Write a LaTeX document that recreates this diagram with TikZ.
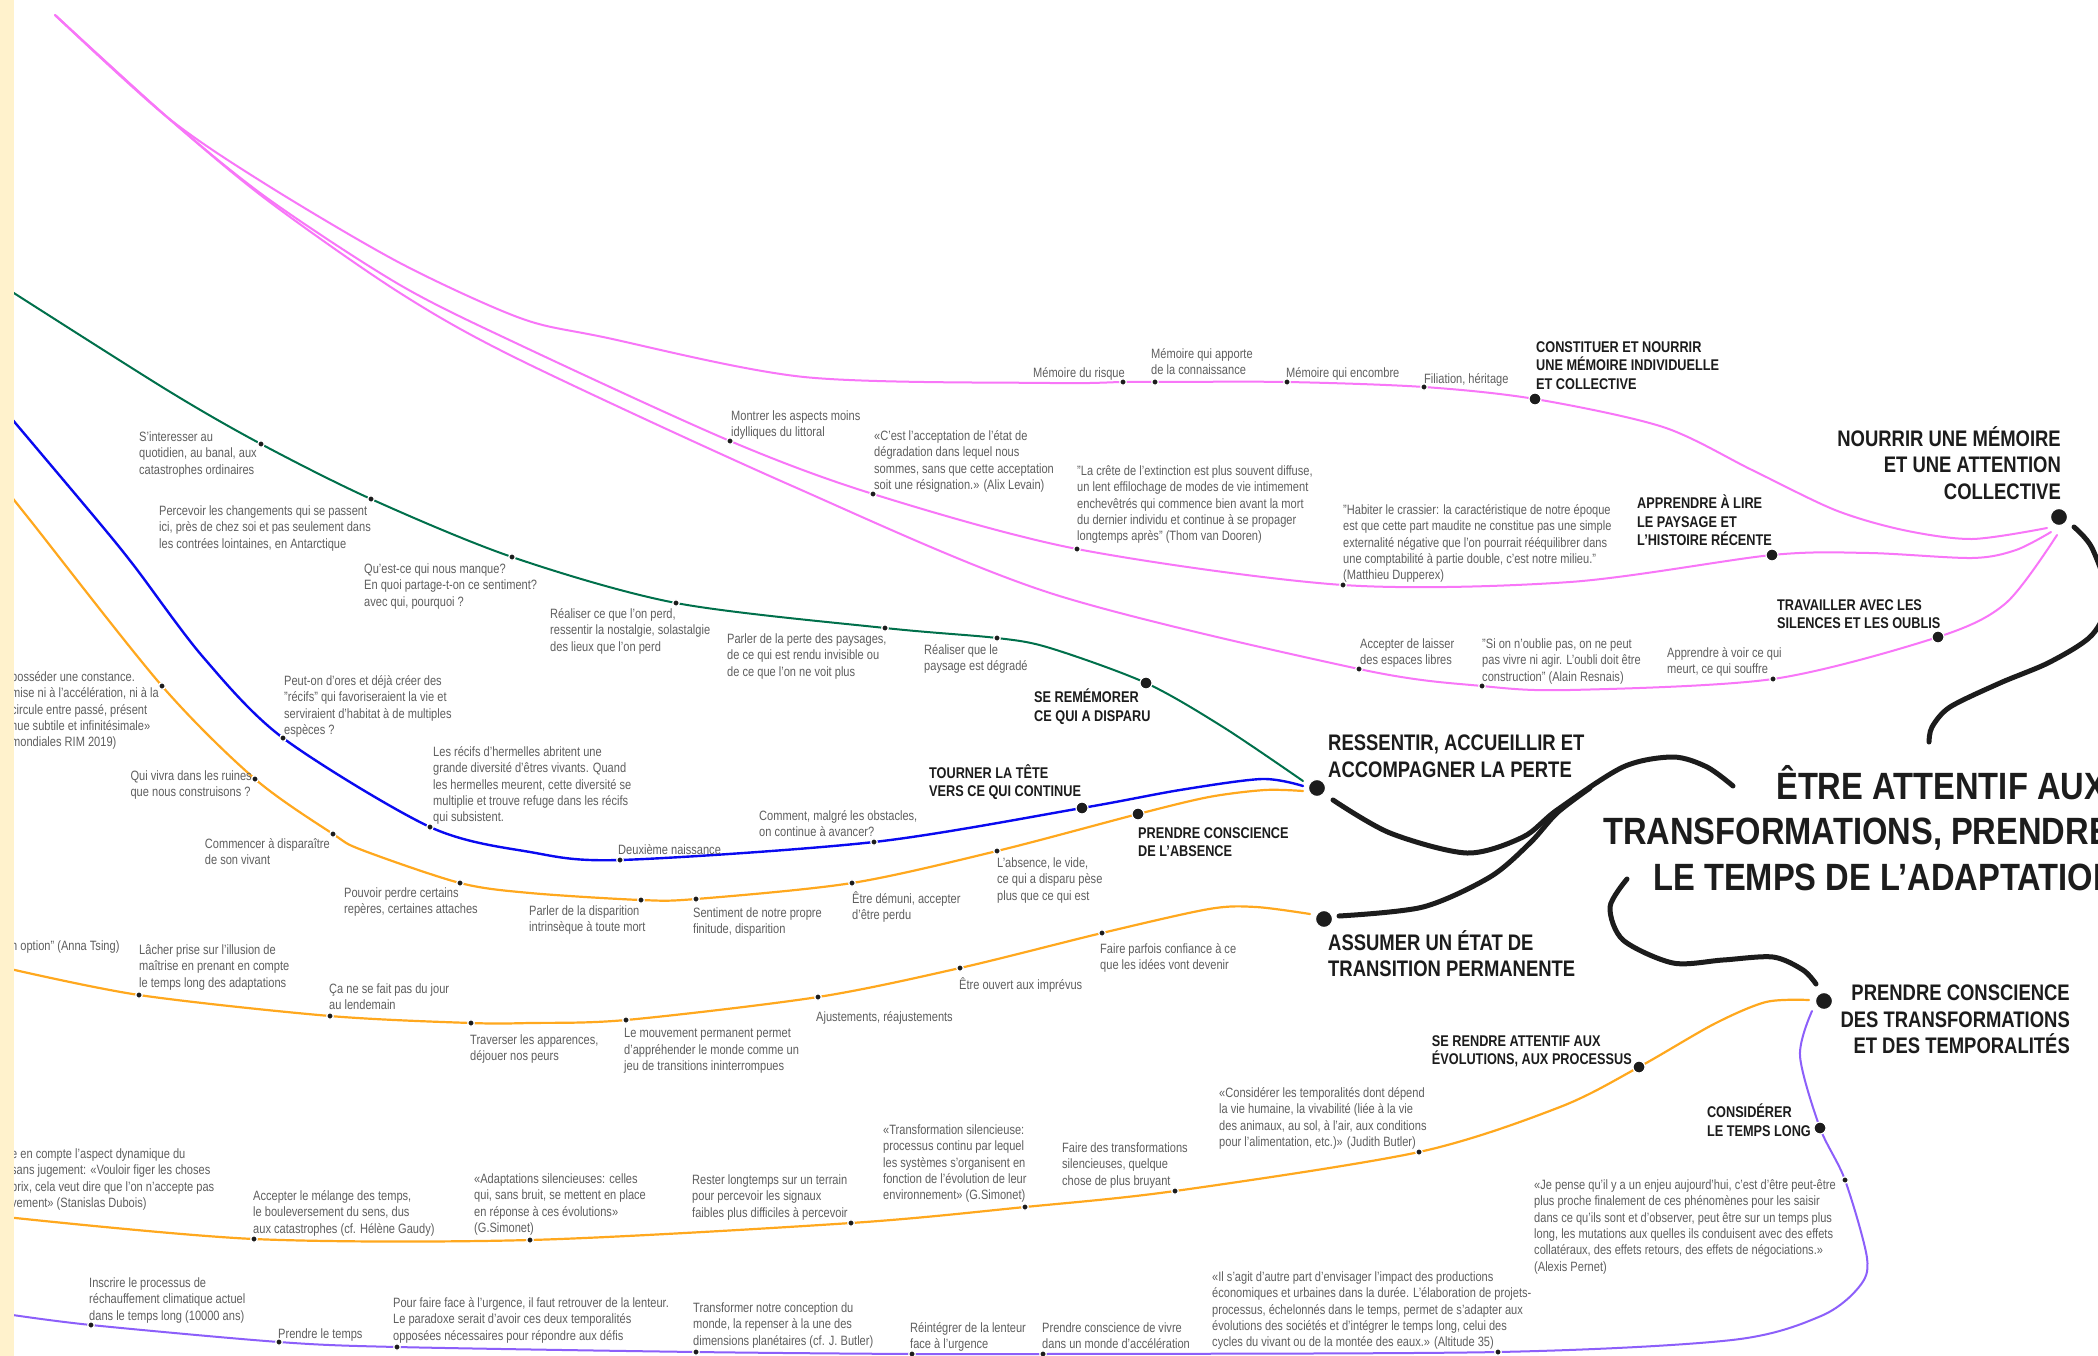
\documentclass[tikz,border=0pt]{standalone}
\usepackage{fontspec}
\setmainfont{Liberation Sans}[FakeStretch=0.82]
\newfontfamily\titlefamily{Liberation Sans}[FakeStretch=0.86,Ligatures=TeX]
\usetikzlibrary{backgrounds}

\definecolor{pinkline}{RGB}{248,118,248}
\definecolor{greenline}{RGB}{0,112,75}
\definecolor{blueline}{RGB}{10,10,240}
\definecolor{orangeline}{RGB}{255,168,30}
\definecolor{purpleline}{RGB}{140,95,250}
\definecolor{ink}{RGB}{28,28,28}
\definecolor{txtgray}{RGB}{95,95,95}
\definecolor{strip}{RGB}{255,242,204}

\newcommand{\lblfont}{\fontsize{13.5}{16.3}\selectfont}
\newcommand{\hdfont}{\bfseries\fontsize{15.5}{18.5}\selectfont}
\newcommand{\hdbigfont}{\bfseries\fontsize{22.5}{26.5}\selectfont}
\newcommand{\ttlfont}{\titlefamily\bfseries\fontsize{38}{45.5}\selectfont}

\tikzset{
  sdot/.style={circle,fill=ink,draw=white,line width=1.2pt,inner sep=0pt,minimum size=6.5pt},
  mdot/.style={sdot,minimum size=12pt},
  bdot/.style={sdot,minimum size=17pt},
  lbl/.style={font=\lblfont,text=txtgray,align=left,inner sep=0pt,yshift=-2.5pt,execute at begin node=\strut},
  hd/.style={font=\hdfont,text=ink,align=left,inner sep=0pt,execute at begin node=\rule{0pt}{0.95em}},
  hdbig/.style={hd,font=\hdbigfont},
  ttl/.style={hd,font=\ttlfont},
  curve/.style={line width=#1,line cap=round},
}

\begin{document}
\begin{tikzpicture}[x=1pt,y=-1pt]
		%%%%% START %%%%%
		\useasboundingbox (0,0) rectangle (2098,1356);

		%%%%% free ends of the lines
		\coordinate (pinkStart) at (55,15);
		\coordinate (pinkEndA) at (2047,528);
		\coordinate (pinkEndB) at (2051,532);
		\coordinate (pinkEndC) at (2057,535);
		\coordinate (greenStart) at (6,288);
		\coordinate (greenEnd) at (1303,781);
		\coordinate (blueStart) at (6,412);
		\coordinate (blueEnd) at (1303,786);
		\coordinate (orangeStartA) at (6,490);
		\coordinate (orangeEndA) at (1303,791);
		\coordinate (orangeStartB) at (6,968);
		\coordinate (orangeEndB) at (1310,914);
		\coordinate (orangeStartC) at (6,1217);
		\coordinate (orangeEndC) at (1809,1000);
		\coordinate (purpleStart) at (6,1314);
		\coordinate (purpleEnd) at (1812,1011);
		\coordinate (kNourrir) at (2074,527);
		\coordinate (kTitleTop) at (1929,742);
		\coordinate (kRessentir) at (1333,800);
		\coordinate (kTitleLeft) at (1733,786);
		\coordinate (kAssumer) at (1339,916);
		\coordinate (kMerge) at (1590,788);
		\coordinate (kTitleBottom) at (1627,879);
		\coordinate (kPrendre) at (1816,984);

		%%%%% memoire (pink)
		\node[sdot] (mRisque) at (1123,382) {};
		\node[sdot] (mApporte) at (1155,382) {};
		\node[sdot] (mEncombre) at (1287,382) {};
		\node[sdot] (mFiliation) at (1424,387) {};
		\node[mdot] (hConstituer) at (1535,399) {};
		\node[sdot] (mMontrer) at (730,441) {};
		\node[sdot] (mAcceptation) at (873,494) {};
		\node[sdot] (mCrete) at (1077,549) {};
		\node[sdot] (mCrassier) at (1343,585) {};
		\node[mdot] (hLire) at (1772,555) {};
		\node[sdot] (mLaisser) at (1359,669) {};
		\node[sdot] (mResnais) at (1482,686) {};
		\node[sdot] (mVoir) at (1773,679) {};
		\node[mdot] (hOublis) at (1938,637) {};
		\node[bdot] (hNourrir) at (2059,517) {};

		\node[lbl,anchor=north east] (lRisque) at (1125,363) {Mémoire du risque};
		\node[lbl,anchor=north west] (lApporte) at (1151,346) {Mémoire qui apporte\\de la connaissance};
		\node[lbl,anchor=north west] (lEncombre) at (1286,363) {Mémoire qui encombre};
		\node[lbl,anchor=north west] (lFiliation) at (1424,369) {Filiation, héritage};
		\node[hd,anchor=north west] (lConstituer) at (1536,341) {CONSTITUER ET NOURRIR\\UNE MÉMOIRE INDIVIDUELLE\\ET COLLECTIVE};
		\node[lbl,anchor=north west] (lMontrer) at (731,408) {Montrer les aspects moins\\idylliques du littoral};
		\node[lbl,anchor=north west] (lAcceptation) at (874,428) {«C'est l'acceptation de l'état de\\dégradation dans lequel nous\\sommes, sans que cette acceptation\\soit une résignation.» (Alix Levain)};
		\node[lbl,anchor=north west] (lCrete) at (1077,463) {"La crête de l'extinction est plus souvent diffuse,\\un lent effilochage de modes de vie intimement\\enchevêtrés qui commence bien avant la mort\\du dernier individu et continue à se propager\\longtemps après" (Thom van Dooren)};
		\node[lbl,anchor=north west] (lCrassier) at (1343,502) {"Habiter le crassier: la caractéristique de notre époque\\est que cette part maudite ne constitue pas une simple\\externalité négative que l'on pourrait rééquilibrer dans\\une comptabilité à partie double, c'est notre milieu."\\(Matthieu Dupperex)};
		\node[hd,anchor=north west] (lLire) at (1637,495) {APPRENDRE À LIRE\\LE PAYSAGE ET\\L'HISTOIRE RÉCENTE};
		\node[lbl,anchor=north west] (lLaisser) at (1360,636) {Accepter de laisser\\des espaces libres};
		\node[lbl,anchor=north west] (lResnais) at (1482,636) {"Si on n'oublie pas, on ne peut\\pas vivre ni agir. L'oubli doit être\\construction" (Alain Resnais)};
		\node[lbl,anchor=north west] (lVoir) at (1667,645) {Apprendre à voir ce qui\\meurt, ce qui souffre};
		\node[hd,anchor=north west] (lOublis) at (1777,599) {TRAVAILLER AVEC LES\\SILENCES ET LES OUBLIS};
		\node[hdbig,align=right,anchor=north east] (lNourrir) at (2061,426) {NOURRIR UNE MÉMOIRE\\ET UNE ATTENTION\\COLLECTIVE};

		%%%%% perte (green)
		\node[sdot] (gQuotidien) at (261,444) {};
		\node[sdot] (gPercevoir) at (371,499) {};
		\node[sdot] (gManque) at (512,557) {};
		\node[sdot] (gRealiser) at (676,603) {};
		\node[sdot] (gPaysages) at (885,628) {};
		\node[sdot] (gDegrade) at (997,638) {};
		\node[mdot] (hRememorer) at (1146,683) {};

		\node[lbl,anchor=north west] (lQuotidien) at (139,429) {S'interesser au\\quotidien, au banal, aux\\catastrophes ordinaires};
		\node[lbl,anchor=north west] (lPercevoir) at (159,503) {Percevoir les changements qui se passent\\ici, près de chez soi et pas seulement dans\\les contrées lointaines, en Antarctique};
		\node[lbl,anchor=north west] (lManque) at (364,561) {Qu'est-ce qui nous manque?\\En quoi partage-t-on ce sentiment?\\avec qui, pourquoi ?};
		\node[lbl,anchor=north west] (lRealiser) at (550,606) {Réaliser ce que l'on perd,\\ressentir la nostalgie, solastalgie\\des lieux que l'on perd};
		\node[lbl,anchor=north west] (lPaysages) at (727,631) {Parler de la perte des paysages,\\de ce qui est rendu invisible ou\\de ce que l'on ne voit plus};
		\node[lbl,anchor=north west] (lDegrade) at (924,642) {Réaliser que le\\paysage est dégradé};
		\node[hd,anchor=north west] (lRememorer) at (1034,689) {SE REMÉMORER\\CE QUI A DISPARU};

		%%%%% continue (blue)
		\node[sdot] (bRecifs) at (283,738) {};
		\node[sdot] (bHermelles) at (430,827) {};
		\node[sdot] (bNaissance) at (620,860) {};
		\node[sdot] (bObstacles) at (874,842) {};
		\node[mdot] (hTourner) at (1082,808) {};
		\node[bdot] (hRessentir) at (1317,788) {};

		\node[lbl,anchor=north west] (lRecifs) at (284,673) {Peut-on d'ores et déjà créer des\\"récifs" qui favoriseraient la vie et\\serviraient d'habitat à de multiples\\espèces ?};
		\node[lbl,anchor=north west] (lHermelles) at (433,744) {Les récifs d'hermelles abritent une\\grande diversité d'êtres vivants. Quand\\les hermelles meurent, cette diversité se\\multiplie et trouve refuge dans les récifs\\qui subsistent.};
		\node[lbl,anchor=north west] (lNaissance) at (618,840) {Deuxième naissance};
		\node[lbl,anchor=north west] (lObstacles) at (759,808) {Comment, malgré les obstacles,\\on continue à avancer?};
		\node[hd,anchor=north west] (lTourner) at (929,764) {TOURNER LA TÊTE\\VERS CE QUI CONTINUE};
		\node[hdbig,anchor=north west] (lRessentir) at (1328,735) {RESSENTIR, ACCUEILLIR ET\\ACCOMPAGNER LA PERTE};

		%%%%% absence (orange)
		\node[sdot] (oConstance) at (162,686) {};
		\node[sdot] (oRuines) at (255,779) {};
		\node[sdot] (oDisparaitre) at (333,834) {};
		\node[sdot] (oReperes) at (460,883) {};
		\node[sdot] (oMort) at (641,900) {};
		\node[sdot] (oFinitude) at (696,899) {};
		\node[sdot] (oDemuni) at (852,883) {};
		\node[sdot] (oAbsence) at (997,851) {};
		\node[mdot] (hAbsence) at (1138,814) {};

		\node[lbl,anchor=north west] (lConstance) at (11,669) {posséder une constance.\\mise ni à l'accélération, ni à la\\circule entre passé, présent\\nue subtile et infinitésimale»\\mondiales RIM 2019)};
		\node[lbl,anchor=north east] (lRuines) at (252,768) {Qui vivra dans les ruines\\que nous construisons ?};
		\node[lbl,anchor=north east] (lDisparaitre) at (330,836) {Commencer à disparaître\\de son vivant};
		\node[lbl,anchor=north west] (lReperes) at (344,885) {Pouvoir perdre certains\\repères, certaines attaches};
		\node[lbl,anchor=north west] (lMort) at (529,903) {Parler de la disparition\\intrinsèque à toute mort};
		\node[lbl,anchor=north west] (lFinitude) at (693,905) {Sentiment de notre propre\\finitude, disparition};
		\node[lbl,anchor=north west] (lDemuni) at (852,889) {Être démuni, accepter\\d'être perdu};
		\node[lbl,anchor=north west] (lAbsence) at (997,855) {L'absence, le vide,\\ce qui a disparu pèse\\plus que ce qui est};
		\node[hd,anchor=north west] (lAbsenceH) at (1138,827) {PRENDRE CONSCIENCE\\DE L'ABSENCE};

		%%%%% transition (orange)
		\node[sdot] (tLacher) at (139,995) {};
		\node[sdot] (tJour) at (330,1016) {};
		\node[sdot] (tApparences) at (471,1023) {};
		\node[sdot] (tMouvement) at (626,1020) {};
		\node[sdot] (tAjustements) at (818,997) {};
		\node[sdot] (tImprevus) at (960,968) {};
		\node[sdot] (tConfiance) at (1102,933) {};
		\node[bdot] (hAssumer) at (1324,919) {};

		\node[lbl,anchor=north west] (lTsing) at (11,936) {n option" (Anna Tsing)};
		\node[lbl,anchor=north west] (lLacher) at (139,942) {Lâcher prise sur l'illusion de\\maîtrise en prenant en compte\\le temps long des adaptations};
		\node[lbl,anchor=north west] (lJour) at (329,981) {Ça ne se fait pas du jour\\au lendemain};
		\node[lbl,anchor=north west] (lApparences) at (470,1032) {Traverser les apparences,\\déjouer nos peurs};
		\node[lbl,anchor=north west] (lMouvement) at (624,1026) {Le mouvement permanent permet\\d'appréhender le monde comme un\\jeu de transitions ininterrompues};
		\node[lbl,anchor=north west] (lAjustements) at (816,1007) {Ajustements, réajustements};
		\node[lbl,anchor=north west] (lImprevus) at (959,975) {Être ouvert aux imprévus};
		\node[lbl,anchor=north west] (lConfiance) at (1100,941) {Faire parfois confiance à ce\\que les idées vont devenir};
		\node[hdbig,anchor=north west] (lAssumer) at (1328,930) {ASSUMER UN ÉTAT DE\\TRANSITION PERMANENTE};

		%%%%% evolutions (orange)
		\node[sdot] (eMelange) at (254,1239) {};
		\node[sdot] (eAdaptations) at (530,1240) {};
		\node[sdot] (eTerrain) at (851,1223) {};
		\node[sdot] (eTransformation) at (1025,1207) {};
		\node[sdot] (eBruyant) at (1175,1191) {};
		\node[sdot] (eButler) at (1419,1152) {};
		\node[mdot] (hEvolutions) at (1639,1067) {};
		\node[bdot] (hPrendre) at (1824,1001) {};

		\node[lbl,anchor=north west] (lDubois) at (11,1146) {e en compte l'aspect dynamique du\\sans jugement: «Vouloir figer les choses\\prix, cela veut dire que l'on n'accepte pas\\vement» (Stanislas Dubois)};
		\node[lbl,anchor=north west] (lMelange) at (253,1188) {Accepter le mélange des temps,\\le bouleversement du sens, dus\\aux catastrophes (cf. Hélène Gaudy)};
		\node[lbl,anchor=north west] (lAdaptations) at (474,1171) {«Adaptations silencieuses: celles\\qui, sans bruit, se mettent en place\\en réponse à ces évolutions»\\(G.Simonet)};
		\node[lbl,anchor=north west] (lTerrain) at (692,1172) {Rester longtemps sur un terrain\\pour percevoir les signaux\\faibles plus difficiles à percevoir};
		\node[lbl,anchor=north west] (lTransformation) at (883,1122) {«Transformation silencieuse:\\processus continu par lequel\\les systèmes s'organisent en\\fonction de l'évolution de leur\\environnement» (G.Simonet)};
		\node[lbl,anchor=north west] (lBruyant) at (1062,1140) {Faire des transformations\\silencieuses, quelque\\chose de plus bruyant};
		\node[lbl,anchor=north west] (lButler) at (1219,1085) {«Considérer les temporalités dont dépend\\la vie humaine, la vivabilité (liée à la vie\\des animaux, au sol, à l'air, aux conditions\\pour l'alimentation, etc.)» (Judith Butler)};
		\node[hd,anchor=north east] (lEvolutions) at (1632,1035) {SE RENDRE ATTENTIF AUX\\ÉVOLUTIONS, AUX PROCESSUS};
		\node[hdbig,align=right,anchor=north east] (lPrendre) at (2070,985) {PRENDRE CONSCIENCE\\DES TRANSFORMATIONS\\ET DES TEMPORALITÉS};

		%%%%% temps long (purple)
		\node[sdot] (pInscrire) at (91,1325) {};
		\node[sdot] (pTemps) at (279,1342) {};
		\node[sdot] (pUrgence) at (397,1347) {};
		\node[sdot] (pConception) at (696,1352) {};
		\node[sdot] (pLenteur) at (912,1354) {};
		\node[sdot] (pVivre) at (1043,1354) {};
		\node[sdot] (pAltitude) at (1498,1352) {};
		\node[sdot] (pPernet) at (1845,1180) {};
		\node[mdot] (hLong) at (1820,1128) {};

		\node[lbl,anchor=north west] (lInscrire) at (89,1275) {Inscrire le processus de\\réchauffement climatique actuel\\dans le temps long (10000 ans)};
		\node[lbl,anchor=north west] (lTemps) at (278,1324) {Prendre le temps};
		\node[lbl,anchor=north west] (lUrgence) at (393,1295) {Pour faire face à l'urgence, il faut retrouver de la lenteur.\\Le paradoxe serait d'avoir ces deux temporalités\\opposées nécessaires pour répondre aux défis};
		\node[lbl,anchor=north west] (lConception) at (693,1300) {Transformer notre conception du\\monde, la repenser à la une des\\dimensions planétaires (cf. J. Butler)};
		\node[lbl,anchor=north west] (lLenteur) at (910,1320) {Réintégrer de la lenteur\\face à l'urgence};
		\node[lbl,anchor=north west] (lVivre) at (1042,1320) {Prendre conscience de vivre\\dans un monde d'accélération};
		\node[lbl,anchor=north west] (lAltitude) at (1212,1269) {«Il s'agit d'autre part d'envisager l'impact des productions\\économiques et urbaines dans la durée. L'élaboration de projets-\\processus, échelonnés dans le temps, permet de s'adapter aux\\évolutions des sociétés et d'intégrer le temps long, celui des\\cycles du vivant ou de la montée des eaux.» (Altitude 35)};
		\node[lbl,anchor=north west] (lPernet) at (1534,1177) {«Je pense qu'il y a un enjeu aujourd'hui, c'est d'être peut-être\\plus proche finalement de ces phénomènes pour les saisir\\dans ce qu'ils sont et d'observer, peut être sur un temps plus\\long, les mutations aux quelles ils conduisent avec des effets\\collatéraux, des effets retours, des effets de négociations.»\\(Alexis Pernet)};
		\node[hd,anchor=north east] (lLong) at (1811,1104) {CONSIDÉRER\\LE TEMPS LONG};

		%%%%% title (runs past the right edge)
		\node[ttl,anchor=north west] (lTitle) at (1603,765) {\hspace*{173pt}ÊTRE ATTENTIF AUX\\TRANSFORMATIONS, PRENDRE\\\hspace*{50pt}LE TEMPS DE L’ADAPTATION};

		%%%%% lines
		\begin{scope}[on background layer]
		\fill[white] (0,0) rectangle (2098,1356);
		\draw[curve=2pt,pinkline] plot[smooth] coordinates {(pinkStart) (167,117) (267,185) (400,263) (520,318) (603,337) (804,377) (1050,383) (mRisque.center) (mApporte.center) (mEncombre.center) (mFiliation.center) (hConstituer.center) (1663,427) (1752,470) (1835,510) (1903,530) (1972,539) (pinkEndA)};
		\draw[curve=2pt,pinkline] plot[smooth] coordinates {(pinkStart) (167,117) (267,198) (400,285) (520,345) (mMontrer.center) (mAcceptation.center) (mCrete.center) (mCrassier.center) (1570,582) (hLire.center) (1869,553) (1972,558) (2016,550) (pinkEndB)};
		\draw[curve=2pt,pinkline] plot[smooth] coordinates {(pinkStart) (167,117) (267,200) (400,293) (520,360) (790,485) (1050,593) (mLaisser.center) (mResnais.center) (1570,690) (mVoir.center) (hOublis.center) (2006,603) (pinkEndC)};
		\draw[curve=2pt,greenline] plot[smooth] coordinates {(greenStart) (167,390) (gQuotidien.center) (gPercevoir.center) (gManque.center) (gRealiser.center) (gPaysages.center) (gDegrade.center) (1050,648) (hRememorer.center) (1223,727) (greenEnd)};
		\draw[curve=2.4pt,blueline] plot[smooth] coordinates {(blueStart) (97,520) (135,567) (203,657) (bRecifs.center) (bHermelles.center) (530,852) (bNaissance.center) (bObstacles.center) (hTourner.center) (1180,790) (1262,779) (blueEnd)};
		\draw[curve=2.2pt,orangeline] plot[smooth] coordinates {(orangeStartA) (30,520) (oConstance.center) (oRuines.center) (oDisparaitre.center) (362,850) (oReperes.center) (530,893) (oMort.center) (oFinitude.center) (oDemuni.center) (oAbsence.center) (hAbsence.center) (1209,797) (1265,790) (orangeEndA)};
		\draw[curve=2.2pt,orangeline] plot[smooth] coordinates {(orangeStartB) (tLacher.center) (tJour.center) (tApparences.center) (530,1023) (tMouvement.center) (tAjustements.center) (tImprevus.center) (tConfiance.center) (1209,909) (1256,907) (orangeEndB)};
		\draw[curve=2.2pt,orangeline] plot[smooth] coordinates {(orangeStartC) (eMelange.center) (eAdaptations.center) (eTerrain.center) (eTransformation.center) (eBruyant.center) (eButler.center) (1560,1107) (hEvolutions.center) (1714,1024) (1766,1002) (orangeEndC)};
		\draw[curve=2pt,purpleline] plot[smooth] coordinates {(purpleStart) (pInscrire.center) (pTemps.center) (pUrgence.center) (pConception.center) (pLenteur.center) (pVivre.center) (pAltitude.center) (1732,1340) (1821,1316) (1859,1287) (1867,1258) (pPernet.center) (hLong.center) (1800,1056) (purpleEnd)};

		\draw[curve=5pt,ink] plot[smooth] coordinates {(kNourrir) (2092,548) (2108,598) (2092,635) (2050,662) (2000,683) (1950,707) (1932,727) (kTitleTop)};
		\draw[curve=5pt,ink] plot[smooth] coordinates {(kRessentir) (1390,833) (1467,853) (1523,837) (1557,810) (1623,767) (1673,757) (1707,767) (kTitleLeft)};
		\draw[curve=5pt,ink] plot[smooth] coordinates {(kAssumer) (1423,907) (1490,877) (1530,843) (1557,813) (kMerge)};
		\draw[curve=5pt,ink] plot[smooth] coordinates {(kTitleBottom) (1610,907) (1623,940) (1673,963) (1723,960) (1773,957) (1803,970) (kPrendre)};
		\end{scope}

		\fill[strip] (0,0) rectangle (14,1356);
		%%%%% END %%%%%
\end{tikzpicture}
\end{document}
